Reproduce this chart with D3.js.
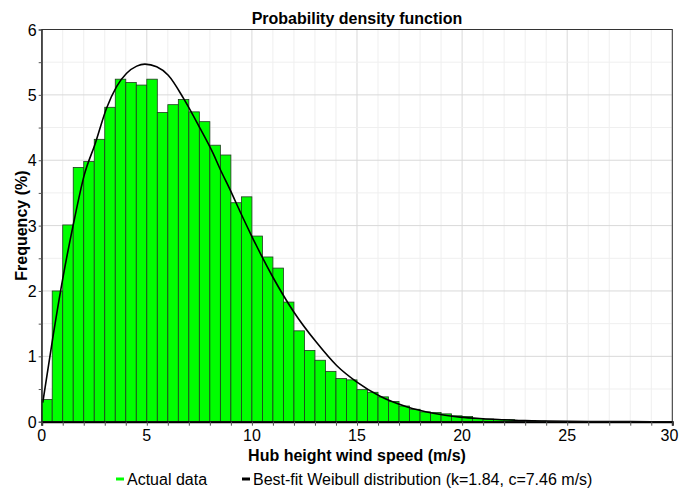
<!DOCTYPE html>
<html>
<head>
<meta charset="utf-8">
<script src="https://cdn.jsdelivr.net/npm/d3@7"></script>
<style>
  body { margin: 0; background: #fff; }
  svg { font-family: Arial, "Liberation Sans", sans-serif; }
</style>
</head>
<body>
<div class="chart"></div>
<script>
// histogram bins, 0.5 m/s wide, starting at 0
const binStarts = d3.range(0, 30, 0.5);
const freq = [0.34, 2.0, 3.01, 3.89, 3.98, 4.32, 4.81, 5.24, 5.19, 5.15,
  5.24, 4.73, 4.85, 4.93, 4.74, 4.59, 4.23, 4.08, 3.35, 3.44,
  2.84, 2.52, 2.35, 1.83, 1.39, 1.09, 0.94, 0.77, 0.66, 0.64,
  0.49, 0.45, 0.38, 0.31, 0.24, 0.19, 0.15, 0.14, 0.12, 0.09,
  0.08, 0.05, 0.04, 0.035, 0.03, 0.02, 0.015, 0.01, 0, 0,
  0, 0, 0, 0, 0, 0, 0, 0, 0, 0];

// weibull curve
const fitX = [0.05, 0.55, 1.03, 1.5, 2.03, 2.54, 3.09, 3.57, 4.04, 4.52, 4.91, 5.47,
  6.02, 6.74, 7.53, 8.16, 8.48, 8.96, 9.43, 9.99, 11.0, 11.97, 13.08, 14.03,
  14.98, 16.1, 17.36, 18.63, 19.9, 21, 22, 23, 24, 26, 28, 30];
const fitY = [0.29, 1.33, 2.24, 3.01, 3.78, 4.25, 4.80, 5.13, 5.33, 5.44, 5.47, 5.43,
  5.30, 4.95, 4.49, 4.10, 3.87, 3.55, 3.22, 2.84, 2.21, 1.69, 1.21, 0.86,
  0.61, 0.39, 0.23, 0.13, 0.07, 0.045, 0.03, 0.016, 0.01, 0.004, 0.001, 0];

const xTicks = [0, 5, 10, 15, 20, 25, 30];
const yTicks = [0, 1, 2, 3, 4, 5, 6];

const W = 679, H = 491;
const margin = { top: 29.5, right: 6.7, bottom: 69.3, left: 41.7 };
const width = W - margin.left - margin.right;
const height = H - margin.top - margin.bottom;

const svg = d3.select(".chart").append("svg")
  .attr("width", W).attr("height", H);

const g = svg.append("g")
  .attr("transform", `translate(${margin.left},${margin.top})`);

const x = d3.scaleLinear().domain([0, 30]).range([0, width]);
const y = d3.scaleLinear().domain([0, 6]).range([height, 0]);

// grid
g.append("g").selectAll("line")
  .data(d3.range(0, 31, 1))
  .join("line")
  .attr("x1", d => x(d)).attr("x2", d => x(d))
  .attr("y1", 0).attr("y2", height)
  .attr("stroke", d => d % 5 === 0 ? "#d9d9d9" : "#efefef");

g.append("g").selectAll("line")
  .data(d3.range(0, 6.01, 0.5))
  .join("line")
  .attr("y1", d => y(d)).attr("y2", d => y(d))
  .attr("x1", 0).attr("x2", width)
  .attr("stroke", d => d % 1 === 0 ? "#d9d9d9" : "#efefef");

// bars
g.append("g").selectAll("rect")
  .data(binStarts.map((s, i) => ({ s, v: freq[i] })).filter(d => d.v > 0))
  .join("rect")
  .attr("x", d => x(d.s))
  .attr("y", d => y(d.v))
  .attr("width", x(0.5) - x(0))
  .attr("height", d => y(0) - y(d.v))
  .attr("fill", "#00ff00")
  .attr("stroke", "#1f3a1f")
  .attr("stroke-width", 0.8);

// fitted curve
const line = d3.line()
  .x((d, i) => x(fitX[i]))
  .y(d => y(d))
  .curve(d3.curveMonotoneX);

g.append("path")
  .datum(fitY)
  .attr("d", line)
  .attr("fill", "none")
  .attr("stroke", "#000")
  .attr("stroke-width", 1.6);

// frame
g.append("rect")
  .attr("width", width).attr("height", height)
  .attr("fill", "none").attr("stroke", "#333").attr("stroke-width", 1);

// axes
const xAxis = g.append("g")
  .attr("transform", `translate(0,${height})`)
  .call(d3.axisBottom(x).tickValues(d3.range(0, 31, 1)).tickSize(4).tickFormat(""));
xAxis.select(".domain").attr("stroke", "#000").attr("stroke-width", 2);
xAxis.selectAll(".tick line").attr("stroke", "#555");

g.append("g").selectAll("text")
  .data(xTicks)
  .join("text")
  .attr("x", d => d === 30 ? x(d) + 6 : x(d)).attr("y", height + 19)
  .attr("text-anchor", d => d === 30 ? "end" : "middle")
  .attr("font-size", 16)
  .text(d => d);

const yAxis = g.append("g")
  .call(d3.axisLeft(y).tickValues(d3.range(0, 6.01, 0.5)).tickSize(3).tickFormat(""));
yAxis.select(".domain").attr("stroke", "#222");
yAxis.selectAll(".tick line").attr("stroke", "#555");

g.append("g").selectAll("text")
  .data(yTicks)
  .join("text")
  .attr("x", -5).attr("y", d => y(d) + 6)
  .attr("text-anchor", "end")
  .attr("font-size", 16)
  .text(d => d);

// titles
svg.append("text")
  .attr("x", margin.left + width / 2).attr("y", 24)
  .attr("text-anchor", "middle")
  .attr("font-size", 16).attr("font-weight", "bold")
  .text("Probability density function");

svg.append("text")
  .attr("x", margin.left + width / 2).attr("y", 461)
  .attr("text-anchor", "middle")
  .attr("font-size", 16).attr("font-weight", "bold")
  .text("Hub height wind speed (m/s)");

svg.append("text")
  .attr("transform", `translate(27,${margin.top + height / 2}) rotate(-90)`)
  .attr("text-anchor", "middle")
  .attr("font-size", 16).attr("font-weight", "bold")
  .text("Frequency (%)");

// legend
const legend = [
  { label: "Actual data", color: "#00ff00", x: 116 },
  { label: "Best-fit Weibull distribution (k=1.84, c=7.46 m/s)", color: "#000", x: 242 }
];
const lg = svg.append("g").selectAll("g")
  .data(legend)
  .join("g")
  .attr("transform", d => `translate(${d.x},479)`);
lg.append("line")
  .attr("x1", 0).attr("x2", 8)
  .attr("stroke", d => d.color).attr("stroke-width", 3);
lg.append("text")
  .attr("x", 11).attr("y", 5.5)
  .attr("font-size", 16)
  .text(d => d.label);
</script>
</body>
</html>
